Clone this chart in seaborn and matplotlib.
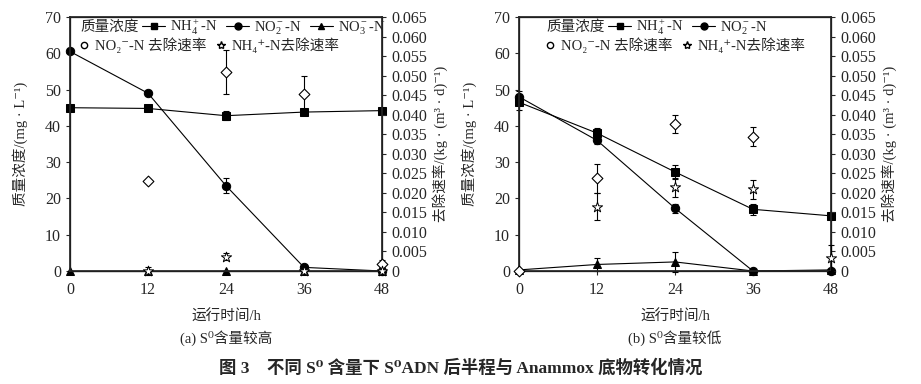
import numpy as np
import pandas as pd
import matplotlib
matplotlib.use("Agg")
import matplotlib.pyplot as plt
import seaborn as sns
from matplotlib.lines import Line2D

sns.set_theme(style="ticks")
FONTS = ['Liberation Serif', 'DejaVu Serif', 'Noto Sans CJK SC']
plt.rcParams['font.family'] = FONTS
plt.rcParams['axes.unicode_minus'] = False
plt.rcParams['mathtext.fontset'] = 'custom'
plt.rcParams['mathtext.rm'] = 'Liberation Serif'
plt.rcParams['mathtext.it'] = 'Liberation Serif:italic'
plt.rcParams['mathtext.bf'] = 'Liberation Serif:bold'

# ---------------- data ----------------
hours = [0, 12, 24, 36, 48]
xticks = [0, 12, 24, 36, 48]
yticks_left = [0, 10, 20, 30, 40, 50, 60, 70]
yticks_right = [0, 0.005, 0.010, 0.015, 0.020, 0.025, 0.030, 0.035, 0.040,
                0.045, 0.050, 0.055, 0.060, 0.065]

# panel (a): high S0
a_nh4 = [45.0, 44.8, 42.8, 43.8, 44.2]
a_nh4_err = [0, 0, 1.2, 0, 0]
a_no2 = [60.5, 49.0, 23.5, 1.0, 0.0]
a_no2_err = [0, 0.6, 2.0, 0.4, 0]
a_no3 = [0, 0, 0, 0, 0]
a_no3_err = [0, 1.2, 0, 0, 0]
a_rate_no2_x = [12, 24, 36, 48]
a_rate_no2 = [0.0230, 0.0509, 0.0453, 0.0019]
a_rate_no2_err = [0.0006, 0.0056, 0.0046, 0.0010]
a_rate_nh4_x = [12, 24, 36, 48]
a_rate_nh4 = [0.0, 0.0037, 0.0, 0.0]
a_rate_nh4_err = [0, 0.0010, 0, 0]

# panel (b): low S0
b_nh4 = [46.5, 38.0, 27.3, 17.0, 15.2]
b_nh4_err = [2.2, 1.5, 2.0, 1.6, 0.8]
b_no2 = [48.0, 36.0, 17.3, 0.0, 0.0]
b_no2_err = [1.5, 1.0, 1.2, 0, 0]
b_no3 = [0.3, 1.8, 2.5, 0.0, 0.3]
b_no3_err = [0, 1.8, 2.8, 0, 0]
b_rate_no2_x = [0, 12, 24, 36]
b_rate_no2 = [0.0, 0.0237, 0.0376, 0.0344]
b_rate_no2_err = [0, 0.0037, 0.0023, 0.0025]
b_rate_nh4_x = [12, 24, 36, 48]
b_rate_nh4 = [0.0165, 0.0214, 0.0209, 0.0033]
b_rate_nh4_err = [0.0035, 0.0024, 0.0024, 0.0033]

lbl_nh4 = r'NH$_4^+$-N'
lbl_no2 = r'NO$_2^-$-N'
lbl_no3 = r'NO$_3^-$-N'
lbl_rate_no2 = 'NO₂⁻-N 去除速率'
lbl_rate_nh4 = 'NH₄⁺-N去除速率'

FS = 10.5
TFS = 11.5

fig = plt.figure(figsize=(9.21, 3.84), dpi=100)
axA = fig.add_axes([70/921, 1-271/384, 312/921, 254/384])
axB = fig.add_axes([519/921, 1-271/384, 312/921, 254/384])


def px(ax, x, y):
    """figure pixel -> axes fraction"""
    inv = ax.transAxes.inverted()
    return inv.transform(fig.transFigure.transform((x/921, 1 - y/384)))


def errs(ax, x, y, e):
    x = np.asarray(x, float); y = np.asarray(y, float); e = np.asarray(e, float)
    m = e > 0
    if m.any():
        ax.errorbar(x[m], y[m], yerr=e[m], fmt='none', ecolor='black',
                    elinewidth=0.8, capsize=2.5, capthick=0.8, clip_on=False, zorder=3)


def draw(ax, nh4, nh4e, no2, no2e, no3, no3e, rx1, r1, r1e, rx2, r2, r2e, show_no3, off):
    df = pd.DataFrame({'h': hours, 'nh4': nh4, 'no2': no2, 'no3': no3})
    for col, mk, e in [('nh4', 's', nh4e), ('no2', 'o', no2e), ('no3', '^', no3e)]:
        sns.lineplot(data=df, x='h', y=col, ax=ax, color='black', lw=0.8,
                     marker=mk, markersize=6, markeredgecolor='black',
                     markerfacecolor='black', clip_on=False, zorder=4)
        errs(ax, hours, df[col], e)
    ax.set_xlim(0, 48)
    ax.set_ylim(0, 70)
    ax.set_xticks(xticks)
    ax.set_yticks(yticks_left)
    ax.set_xlabel('')
    ax.set_ylabel('质量浓度/(mg · L⁻¹)', fontsize=FS, labelpad=12)
    ax.tick_params(labelsize=TFS, direction='out', length=3, width=0.8)
    ax.tick_params(axis='x', pad=5)
    for s in ax.spines.values():
        s.set_linewidth(0.9); s.set_color('black')

    ax2 = ax.twinx()
    d1 = pd.DataFrame({'h': rx1, 'r': r1})
    d2 = pd.DataFrame({'h': rx2, 'r': r2})
    errs(ax2, rx1, r1, r1e)
    errs(ax2, rx2, r2, r2e)
    sns.scatterplot(data=d1, x='h', y='r', ax=ax2, marker='D', s=30,
                    facecolor='white', edgecolor='black', linewidth=0.8,
                    clip_on=False, zorder=5)
    sns.scatterplot(data=d2, x='h', y='r', ax=ax2, marker='*', s=60,
                    facecolor='white', edgecolor='black', linewidth=0.7,
                    clip_on=False, zorder=5)
    ax2.set_ylim(0, 0.065)
    ax2.set_yticks(yticks_right)
    ax2.set_yticklabels(['0'] + [f'{v:.3f}' for v in yticks_right[1:]])
    ax2.set_xlim(0, 48)
    ax2.set_ylabel('去除速率/(kg · (m³ · d)⁻¹)', fontsize=FS, labelpad=4)
    ax2.tick_params(labelsize=TFS, direction='out', length=3, width=0.8)

    # legend, row 1
    ox = ax.get_position().x0 * 921
    ax.text(*px(ax, ox + 10 + off, 27), '质量浓度', transform=ax.transAxes,
            fontsize=FS, va='center', ha='left')
    h1 = [Line2D([], [], color='black', lw=0.8, marker='s', markersize=5, label=lbl_nh4),
          Line2D([], [], color='black', lw=0.8, marker='o', markersize=5, label=lbl_no2)]
    if show_no3:
        h1.append(Line2D([], [], color='black', lw=0.8, marker='^', markersize=5, label=lbl_no3))
    leg1 = ax.legend(handles=h1, ncol=len(h1), loc='center left',
                     bbox_to_anchor=px(ax, ox + 72 + off, 27), frameon=False,
                     fontsize=FS, handlelength=1.6, handletextpad=0.35,
                     columnspacing=0.55, borderaxespad=0.0, borderpad=0.0)
    ax.add_artist(leg1)
    # legend, row 2
    h2 = [Line2D([], [], ls='none', marker='o', markersize=4.5, markerfacecolor='white',
                 markeredgecolor='black', label=lbl_rate_no2),
          Line2D([], [], ls='none', marker='*', markersize=6, markerfacecolor='white',
                 markeredgecolor='black', label=lbl_rate_nh4)]
    ax.legend(handles=h2, ncol=2, loc='center left',
              bbox_to_anchor=px(ax, ox + 8 + off, 45), frameon=False, fontsize=FS,
              handlelength=0.8, handletextpad=0.35, columnspacing=0.6,
              borderaxespad=0.0, borderpad=0.0)
    return ax2


axA2 = draw(axA, a_nh4, a_nh4_err, a_no2, a_no2_err, a_no3, a_no3_err,
            a_rate_no2_x, a_rate_no2, a_rate_no2_err,
            a_rate_nh4_x, a_rate_nh4, a_rate_nh4_err, True, 0)
axB2 = draw(axB, b_nh4, b_nh4_err, b_no2, b_no2_err, b_no3, b_no3_err,
            b_rate_no2_x, b_rate_no2, b_rate_no2_err,
            b_rate_nh4_x, b_rate_nh4, b_rate_nh4_err, False, 17)

for ax, cap in [(axA, '(a) S⁰含量较高'), (axB, '(b) S⁰含量较低')]:
    cx = (ax.get_position().x0 + ax.get_position().x1) / 2
    fig.text(cx, 1 - 317/384, '运行时间/h', ha='center', va='center', fontsize=FS)
    fig.text(cx, 1 - 338/384, cap, ha='center', va='center', fontsize=FS)

fig.text(0.5, 1 - 368/384, '图 3    不同 S⁰ 含量下 S⁰ADN 后半程与 Anammox 底物转化情况',
         ha='center', va='center', fontsize=12.5, fontweight='bold')

fig.savefig('out.png', dpi=100)
